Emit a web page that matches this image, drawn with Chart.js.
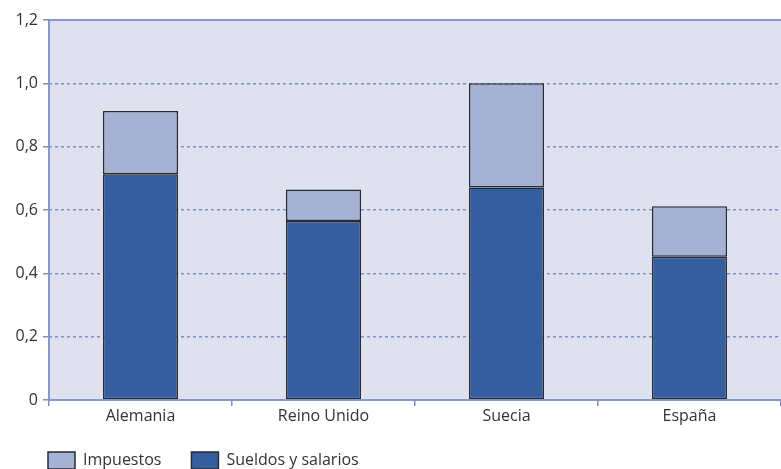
<!DOCTYPE html>
<html>
<head>
<meta charset="utf-8">
<script src="https://cdn.jsdelivr.net/npm/chart.js@4/dist/chart.umd.min.js"></script>
<style>
  html, body { margin: 0; padding: 0; background: #fff; }
  #wrap { width: 781px; height: 469px; }
</style>
</head>
<body>
<div id="wrap"><canvas id="chart"></canvas></div>
<script>
const paises = ['Alemania', 'Reino Unido', 'Suecia', 'España'];
const sueldos = [0.713, 0.565, 0.671, 0.452];
const impuestos = [0.200, 0.100, 0.329, 0.160];
const yTicks = [0, 0.2, 0.4, 0.6, 0.8, 1.0, 1.2];

const FONT = "'Open Sans', 'Noto Sans', sans-serif";
const TEXT = '#333333';
const GRID = '#7f8dc6';
const LEGEND_PAD = 30;

// plot background plus the solid frame lines (left, top, bottom)
const frame = {
    id: 'frame',
    beforeDraw(chart) {
        const { ctx, chartArea: a } = chart;
        ctx.save();
        ctx.fillStyle = '#dfe2ee';
        ctx.fillRect(a.left, a.top, a.right - a.left, a.bottom - a.top);
        ctx.restore();
    },
    afterDatasetsDraw(chart) {
        const { ctx, chartArea: a } = chart;
        ctx.save();
        ctx.strokeStyle = '#8796cb';
        ctx.lineWidth = 2;
        ctx.beginPath();
        ctx.moveTo(a.left, a.top);
        ctx.lineTo(a.right, a.top);
        ctx.moveTo(a.left, a.top);
        ctx.lineTo(a.left, a.bottom);
        ctx.moveTo(a.left, a.bottom);
        ctx.lineTo(a.right, a.bottom);
        ctx.stroke();
        ctx.restore();
    }
};

// legend sits flush with the plot's left edge, below the category labels
const legendPlace = {
    id: 'legendPlace',
    afterLayout(chart) {
        const lg = chart.legend;
        const a = chart.chartArea;
        lg.left = a.left - 1 - LEGEND_PAD;
        lg.top = a.bottom + 52 - LEGEND_PAD;
    }
};

new Chart(document.getElementById('chart'), {
    type: 'bar',
    data: {
        labels: paises,
        datasets: [
            {
                label: 'Sueldos y salarios',
                data: sueldos,
                backgroundColor: '#345e9e',
                borderColor: '#262a33',
                borderWidth: 1.5,
                borderSkipped: false
            },
            {
                label: 'Impuestos',
                data: impuestos,
                backgroundColor: '#a6b2d4',
                borderColor: '#262a33',
                borderWidth: 1.5,
                borderSkipped: false
            }
        ]
    },
    options: {
        responsive: true,
        maintainAspectRatio: false,
        animation: false,
        layout: { padding: { top: 20, right: 0, left: 0, bottom: -20 } },
        datasets: {
            bar: { categoryPercentage: 1, barPercentage: 0.41 }
        },
        plugins: {
            tooltip: { enabled: false },
            legend: {
                position: 'bottom',
                align: 'start',
                fullSize: false,
                reverse: true,
                labels: {
                    boxWidth: 27,
                    boxHeight: 17,
                    padding: LEGEND_PAD,
                    color: TEXT,
                    font: { family: FONT, size: 16 },
                    generateLabels(chart) {
                        return chart.data.datasets.map((ds, i) => ({
                            text: ds.label,
                            fillStyle: ds.backgroundColor,
                            strokeStyle: '#262a33',
                            lineWidth: 1.5,
                            datasetIndex: i,
                            fontColor: TEXT
                        }));
                    }
                }
            }
        },
        scales: {
            x: {
                stacked: true,
                offset: true,
                grid: {
                    offset: true,
                    drawOnChartArea: false,
                    drawTicks: true,
                    tickLength: 6,
                    color: GRID,
                    lineWidth: 1.5
                },
                border: { display: false },
                ticks: {
                    color: TEXT,
                    padding: 1,
                    font: { family: FONT, size: 16 }
                },
                afterFit(scale) { scale.height = 32; }
            },
            y: {
                stacked: true,
                min: 0,
                max: 1.2,
                afterBuildTicks(scale) {
                    scale.ticks = yTicks.map(v => ({ value: v }));
                },
                grid: {
                    color: ctx => (ctx.tick && (ctx.tick.value === 0 || ctx.tick.value === 1.2)) ? 'rgba(0,0,0,0)' : GRID,
                    tickColor: GRID,
                    lineWidth: 1.5,
                    drawTicks: true,
                    tickLength: 6
                },
                border: { display: false, dash: [3, 3] },
                ticks: {
                    color: TEXT,
                    padding: 5,
                    font: { family: FONT, size: 16 },
                    callback: v => v === 0 ? '0' : v.toFixed(1).replace('.', ',')
                },
                afterFit(scale) { scale.width = 49; }
            }
        }
    },
    plugins: [frame, legendPlace]
});
</script>
</body>
</html>
